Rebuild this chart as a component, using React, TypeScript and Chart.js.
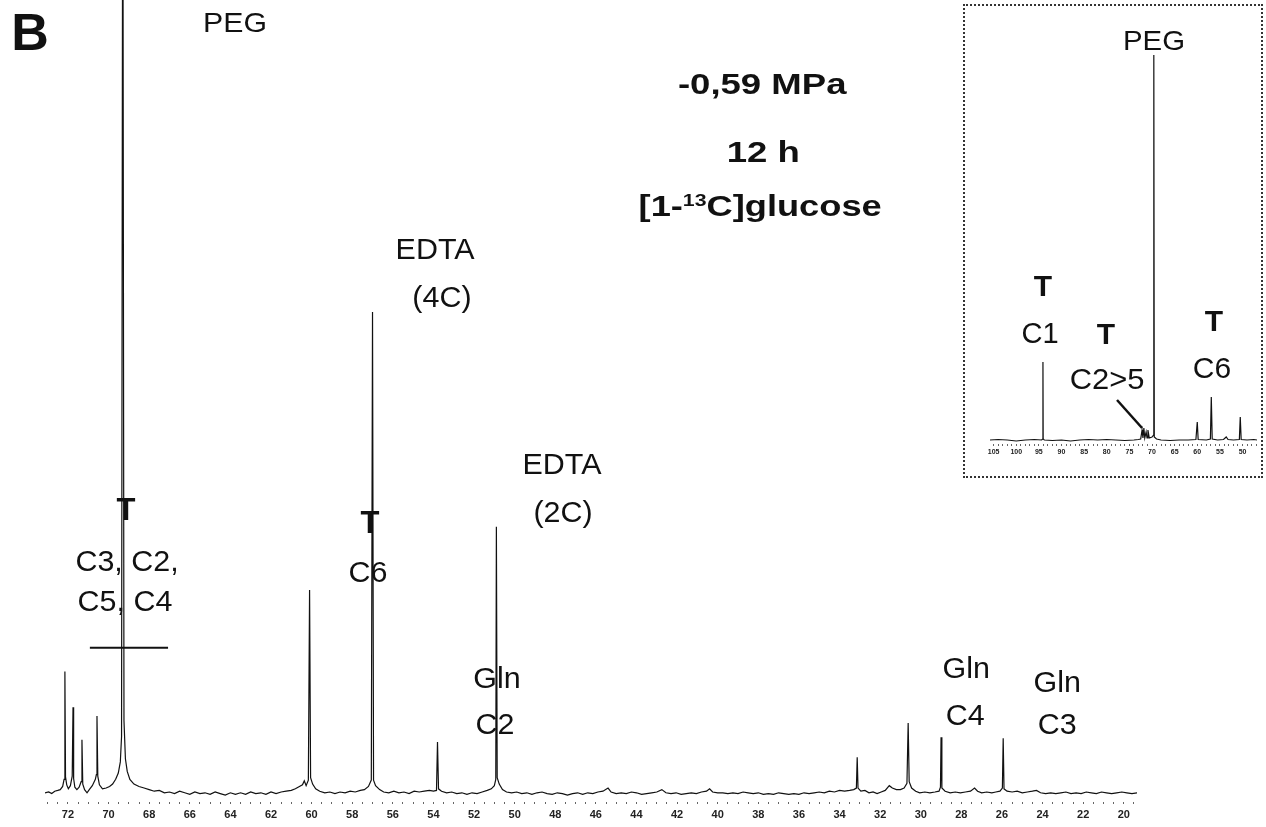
import React, { useEffect, useRef } from "react";
import { Chart, registerables } from "chart.js";

Chart.register(...registerables);

// ---------- Main 13C spectrum: [ppm, intensity (a.u.)] ----------
const SPECTRUM: [number, number][] = [
  [73.13, -0.1], [72.95, 0.0], [72.8, -0.2], [72.65, 0.1], [72.5, 0.2], [72.38, 0.3],
  [72.26, 0.7], [72.19, 1.6], [72.15, 15.2], [72.12, 1.9], [72.06, 0.9], [71.98, 0.4],
  [71.88, 0.8], [71.79, 2.0], [71.75, 10.7], [71.72, 1.7], [71.66, 0.6], [71.56, 0.3],
  [71.45, 0.6], [71.35, 1.3], [71.31, 6.6], [71.27, 1.0], [71.18, 0.3], [71.06, -0.1],
  [70.95, 0.3], [70.8, 0.8], [70.65, 1.6], [70.6, 2.2], [70.57, 9.6], [70.53, 2.0],
  [70.45, 0.9], [70.3, 0.4], [70.12, 0.5], [69.95, 0.7], [69.8, 1.0], [69.65, 1.6],
  [69.52, 2.4], [69.42, 3.8], [69.36, 7.0], [69.3, 130], [69.24, 9.0], [69.17, 4.2],
  [69.08, 2.6], [68.95, 1.6], [68.75, 1.0], [68.5, 0.7], [68.25, 0.5], [68.0, 0.3],
  [67.75, 0.1], [67.5, 0.2], [67.25, -0.1], [67.0, 0.0], [66.75, -0.2], [66.5, 0.1],
  [66.25, -0.1], [66.0, -0.3], [65.75, 0.0], [65.5, -0.2], [65.25, -0.1], [65.0, -0.3],
  [64.75, 0.0], [64.5, -0.2], [64.25, -0.4], [64.0, -0.1], [63.75, -0.3], [63.5, -0.1],
  [63.25, -0.3], [63.0, 0.0], [62.75, -0.2], [62.5, -0.1], [62.25, -0.3], [62.0, 0.0],
  [61.75, -0.2], [61.5, 0.0], [61.25, 0.1], [61.0, 0.2], [60.8, 0.4], [60.6, 0.7],
  [60.45, 0.9], [60.36, 1.4], [60.27, 0.8], [60.16, 1.5], [60.1, 25.5], [60.05, 1.8],
  [59.95, 1.0], [59.8, 0.4], [59.6, 0.1], [59.35, -0.1], [59.1, 0.0], [58.85, -0.2],
  [58.6, 0.0], [58.35, -0.1], [58.1, 0.1], [57.85, 0.0], [57.6, 0.2], [57.4, 0.3],
  [57.2, 0.7], [57.06, 1.5], [57.0, 60.6], [56.95, 1.5], [56.85, 0.8], [56.65, 0.3],
  [56.45, 0.0], [56.2, -0.1], [55.95, 0.1], [55.7, -0.1], [55.45, 0.0], [55.2, -0.2],
  [54.95, 0.1], [54.7, 0.0], [54.45, 0.1], [54.2, 0.2], [54.0, 0.1], [53.85, 0.2],
  [53.8, 6.3], [53.75, 0.4], [53.6, 0.1], [53.35, -0.1], [53.1, 0.0], [52.85, -0.2],
  [52.6, -0.1], [52.35, -0.3], [52.1, -0.1], [51.85, -0.2], [51.6, 0.0], [51.35, 0.2],
  [51.15, 0.4], [51.0, 0.8], [50.93, 1.6], [50.9, 33.5], [50.86, 1.8], [50.76, 1.0],
  [50.6, 0.3], [50.4, 0.0], [50.15, -0.1], [49.9, 0.0], [49.65, -0.2], [49.4, -0.1],
  [49.15, -0.3], [48.9, -0.1], [48.65, 0.0], [48.4, -0.2], [48.15, -0.3], [47.9, -0.1],
  [47.65, -0.2], [47.4, -0.4], [47.15, -0.2], [46.9, -0.1], [46.65, -0.3], [46.4, -0.1],
  [46.15, -0.2], [45.9, 0.0], [45.65, 0.1], [45.4, 0.5], [45.25, 0.0], [45.0, -0.2],
  [44.75, -0.1], [44.5, -0.2], [44.25, 0.0], [44.0, -0.1], [43.75, -0.3], [43.5, -0.2],
  [43.25, -0.1], [43.0, 0.0], [42.75, 0.3], [42.55, -0.1], [42.3, -0.2], [42.05, -0.1],
  [41.8, -0.3], [41.55, -0.2], [41.3, -0.1], [41.05, -0.2], [40.8, 0.0], [40.55, 0.1],
  [40.4, 0.4], [40.25, 0.0], [40.0, -0.1], [39.75, -0.1], [39.5, -0.2], [39.25, -0.1],
  [39.0, -0.2], [38.75, 0.0], [38.5, -0.1], [38.25, -0.2], [38.0, -0.1], [37.75, -0.3],
  [37.5, -0.2], [37.25, -0.3], [37.0, -0.1], [36.75, -0.2], [36.5, -0.3], [36.25, -0.2],
  [36.0, -0.3], [35.75, -0.1], [35.5, -0.2], [35.25, -0.1], [35.0, 0.0], [34.75, -0.1],
  [34.5, 0.1], [34.25, 0.0], [34.0, 0.2], [33.75, 0.1], [33.5, 0.2], [33.3, 0.3],
  [33.17, 0.5], [33.13, 4.4], [33.09, 0.5], [32.95, 0.1], [32.75, 0.2], [32.55, -0.1],
  [32.35, 0.0], [32.15, -0.2], [31.95, 0.0], [31.75, 0.2], [31.55, 0.8], [31.4, 0.5],
  [31.2, 0.3], [31.0, 0.3], [30.82, 0.5], [30.68, 1.1], [30.62, 8.7], [30.57, 1.3],
  [30.45, 0.5], [30.25, 0.1], [30.05, -0.1], [29.8, 0.0], [29.55, -0.1], [29.3, 0.0],
  [29.1, 0.1], [29.03, 0.6], [29.0, 6.9], [28.96, 0.5], [28.8, 0.1], [28.55, -0.1],
  [28.3, 0.0], [28.05, -0.1], [27.8, 0.0], [27.55, 0.1], [27.35, 0.5], [27.2, 0.1],
  [27.0, -0.1], [26.75, 0.0], [26.5, -0.1], [26.3, 0.0], [26.1, 0.1], [25.98, 0.5],
  [25.94, 6.8], [25.9, 0.4], [25.75, 0.1], [25.5, 0.0], [25.25, 0.1], [25.0, -0.1],
  [24.75, 0.0], [24.5, 0.1], [24.3, 0.2], [24.1, -0.1], [23.85, -0.2], [23.6, -0.1],
  [23.35, -0.2], [23.1, -0.1], [22.85, 0.0], [22.6, -0.2], [22.35, -0.1], [22.1, -0.2],
  [21.85, 0.0], [21.6, -0.1], [21.35, -0.2], [21.1, 0.0], [20.85, -0.1], [20.6, -0.2],
  [20.35, -0.1], [20.1, 0.0], [19.85, -0.1], [19.6, -0.2], [19.35, -0.1],
];

// ---------- Inset: full-range spectrum [ppm, intensity] ----------
const INSET_SPECTRUM: [number, number][] = [
  [105.8, 0], [104, 0.5], [102, 0], [100, -1], [98, 0], [96, 0.5], [94.4, 0],
  [94.15, 1], [94.1, 78], [94.05, 1], [93.8, 0], [92, -0.5], [90, 0], [88, -1],
  [86, 0], [84, 0.5], [82, 0], [80, 0.5], [78, 0], [76, -0.5], [74, 0], [73, 0.5],
  [72.5, 1], [72.2, 10], [72.0, 2], [71.8, 12], [71.6, 2], [71.3, 8], [71.1, 2],
  [70.9, 10], [70.6, 2], [70.0, 3], [69.65, 5], [69.6, 385], [69.5, 3], [69.0, 1],
  [68, 0], [66, -0.5], [64, 0], [62, 0], [60.3, 0.5], [60.0, 18], [59.8, 0.5],
  [58, 0], [57.1, 1], [56.9, 43], [56.7, 1], [55.5, 0], [54.2, 0.5], [53.6, 3],
  [53.2, 0.5], [52, 0], [50.7, 0.5], [50.5, 23], [50.3, 0.5], [49, 0], [47.5, 0.5],
  [46.8, 0],
];

const TICK_LABELS = [72, 70, 68, 66, 64, 62, 60, 58, 56, 54, 52, 50, 48, 46, 44, 42, 40, 38, 36, 34, 32, 30, 28, 26, 24, 22, 20];
const INSET_TICK_LABELS = [105, 100, 95, 90, 85, 80, 75, 70, 65, 60, 55, 50];

const FONT = '"Liberation Sans", Arial, Helvetica, sans-serif';

type Part = { t: string; size: number; bold?: boolean; dy?: number };
type Label = { parts: Part[]; x: number; y: number; sx: number };

const L = (t: string, x: number, y: number, size: number, bold = false, sx = 1.05): Label => ({
  parts: [{ t, size, bold }],
  x,
  y,
  sx,
});

const MAIN_LABELS: Label[] = [
  L("B", 73.87, 96.0, 52, true, 1),
  L("PEG", 63.77, 97.2, 28, false, 1.08),
  L("-0,59 MPa", 37.81, 89.4, 29, true, 1.26),
  L("12 h", 37.76, 80.9, 29, true, 1.26),
  {
    parts: [
      { t: "[1-", size: 29, bold: true },
      { t: "13", size: 17, bold: true, dy: -10 },
      { t: "C]glucose", size: 29, bold: true },
    ],
    x: 37.91,
    y: 74.1,
    sx: 1.25,
  },
  L("EDTA", 53.92, 68.6, 29),
  L("(4C)", 53.58, 62.5, 29),
  L("T", 57.12, 34.1, 31, true, 1),
  L("C6", 57.22, 27.8, 29),
  L("T", 69.14, 35.7, 31, true, 1),
  L("C3, C2,", 69.09, 29.2, 29),
  L("C5, C4", 69.19, 24.2, 29),
  L("EDTA", 47.67, 41.5, 29),
  L("(2C)", 47.62, 35.4, 29),
  L("Gln", 50.87, 14.5, 29),
  L("C2", 50.97, 8.6, 29),
  L("Gln", 27.76, 15.7, 29),
  L("C4", 27.81, 9.8, 29),
  L("Gln", 23.28, 13.9, 29),
  L("C3", 23.28, 8.6, 29),
];

const MAIN_LINES = [{ x1: 70.92, y1: 18.2, x2: 67.07, y2: 18.2, w: 2 }];

const INSET_LABELS: Label[] = [
  L("PEG", 69.56, 400, 28, false, 1.05),
  L("T", 94.09, 155, 30, true, 1),
  L("C1", 94.75, 108, 30, false, 0.97),
  L("T", 80.16, 107, 30, true, 1),
  L("C2>5", 79.94, 62, 30, false, 1.03),
  L("T", 56.3, 120, 30, true, 1),
  L("C6", 56.74, 73, 30, false, 1.0),
];

const INSET_LINES = [{ x1: 77.73, y1: 40, x2: 72.2, y2: 12, w: 2.5 }];

function drawLabel(ctx: CanvasRenderingContext2D, l: Label, px: number, py: number) {
  const main = l.parts[0].size;
  let total = 0;
  const widths: number[] = [];
  for (const p of l.parts) {
    ctx.font = `${p.bold ? "bold " : ""}${p.size}px ${FONT}`;
    const w = ctx.measureText(p.t).width;
    widths.push(w);
    total += w;
  }
  ctx.save();
  ctx.translate(px, py + main * 0.358);
  ctx.scale(l.sx, 1);
  ctx.textAlign = "left";
  ctx.textBaseline = "alphabetic";
  let cx = -total / 2;
  l.parts.forEach((p, i) => {
    ctx.font = `${p.bold ? "bold " : ""}${p.size}px ${FONT}`;
    ctx.fillText(p.t, cx, p.dy || 0);
    cx += widths[i];
  });
  ctx.restore();
}

function annotationPlugin(labels: Label[], lines: { x1: number; y1: number; x2: number; y2: number; w: number }[]) {
  return {
    id: "annot",
    afterDraw(chart: any) {
      const ctx = chart.ctx as CanvasRenderingContext2D;
      const xs = chart.scales.x;
      const ys = chart.scales.y;
      ctx.save();
      ctx.fillStyle = "#111";
      ctx.strokeStyle = "#111";
      for (const ln of lines) {
        ctx.lineWidth = ln.w;
        ctx.beginPath();
        ctx.moveTo(xs.getPixelForValue(ln.x1), ys.getPixelForValue(ln.y1));
        ctx.lineTo(xs.getPixelForValue(ln.x2), ys.getPixelForValue(ln.y2));
        ctx.stroke();
      }
      for (const l of labels) {
        drawLabel(ctx, l, xs.getPixelForValue(l.x), ys.getPixelForValue(l.y));
      }
      ctx.restore();
    },
  };
}

function makeConfig(opts: {
  data: [number, number][];
  xmin: number;
  xmax: number;
  ymin: number;
  ymax: number;
  step: number;
  tickFrom: number;
  tickTo: number;
  labels: number[];
  padding: { left: number; right: number; top: number; bottom: number };
  axisHeight: number;
  tickFont: number;
  tickPad: number;
  lineWidth: number;
  annotations: Label[];
  lines: { x1: number; y1: number; x2: number; y2: number; w: number }[];
}): any {
  return {
    type: "line",
    data: {
      datasets: [
        {
          data: opts.data.map(([x, y]) => ({ x, y })),
          borderColor: "#111",
          borderWidth: opts.lineWidth,
          pointRadius: 0,
          tension: 0,
          fill: false,
        },
      ],
    },
    options: {
      animation: false,
      responsive: false,
      devicePixelRatio: 1,
      events: [],
      layout: { autoPadding: false, padding: opts.padding },
      plugins: { legend: { display: false }, tooltip: { enabled: false } },
      scales: {
        x: {
          type: "linear",
          reverse: true,
          min: opts.xmin,
          max: opts.xmax,
          border: { display: false },
          grid: {
            display: true,
            drawOnChartArea: false,
            drawTicks: true,
            tickLength: 2,
            color: "#666",
            lineWidth: 1,
          },
          ticks: {
            autoSkip: false,
            maxRotation: 0,
            minRotation: 0,
            padding: opts.tickPad,
            color: "#222",
            font: { family: FONT, weight: "bold", size: opts.tickFont },
            callback: (v: any) => (opts.labels.includes(Number(v)) ? String(v) : ""),
          },
          afterBuildTicks: (scale: any) => {
            const t: { value: number }[] = [];
            const n = Math.round((opts.tickTo - opts.tickFrom) / opts.step);
            for (let i = 0; i <= n; i++) t.push({ value: Math.round((opts.tickFrom + i * opts.step) * 100) / 100 });
            scale.ticks = t;
          },
          afterFit: (scale: any) => {
            scale.height = opts.axisHeight;
          },
        },
        y: { type: "linear", display: false, min: opts.ymin, max: opts.ymax },
      },
    },
    plugins: [annotationPlugin(opts.annotations, opts.lines)],
  };
}

export default function App() {
  const mainRef = useRef<HTMLCanvasElement>(null);
  const insetRef = useRef<HTMLCanvasElement>(null);

  useEffect(() => {
    const main = new Chart(
      mainRef.current as HTMLCanvasElement,
      makeConfig({
        data: SPECTRUM,
        xmin: 19.35,
        xmax: 73.13,
        ymin: -1.263,
        ymax: 100,
        step: 0.5,
        tickFrom: 19.5,
        tickTo: 73,
        labels: TICK_LABELS,
        padding: { left: 45, right: 129, top: 0, bottom: 0 },
        axisHeight: 25,
        tickFont: 11,
        tickPad: 4,
        lineWidth: 1.2,
        annotations: MAIN_LABELS,
        lines: MAIN_LINES,
      })
    );
    const inset = new Chart(
      insetRef.current as HTMLCanvasElement,
      makeConfig({
        data: INSET_SPECTRUM,
        xmin: 46.8,
        xmax: 105.8,
        ymin: -4,
        ymax: 434,
        step: 1,
        tickFrom: 47,
        tickTo: 105,
        labels: INSET_TICK_LABELS,
        padding: { left: 25, right: 4, top: 0, bottom: 0 },
        axisHeight: 32,
        tickFont: 7,
        tickPad: 2,
        lineWidth: 1.2,
        annotations: INSET_LABELS,
        lines: INSET_LINES,
      })
    );
    return () => {
      main.destroy();
      inset.destroy();
    };
  }, []);

  return (
    <div style={{ position: "fixed", left: 0, top: 0, width: 1266, height: 827, background: "#fff", overflow: "hidden" }}>
      <canvas
        ref={mainRef}
        width={1266}
        height={827}
        style={{ position: "absolute", left: 0, top: 0, width: 1266, height: 827 }}
      />
      <div
        style={{
          position: "absolute",
          left: 963,
          top: 4,
          width: 300,
          height: 474,
          boxSizing: "border-box",
          border: "2px dotted #333",
        }}
      >
        <canvas ref={insetRef} width={296} height={470} style={{ display: "block", width: 296, height: 470 }} />
      </div>
    </div>
  );
}
